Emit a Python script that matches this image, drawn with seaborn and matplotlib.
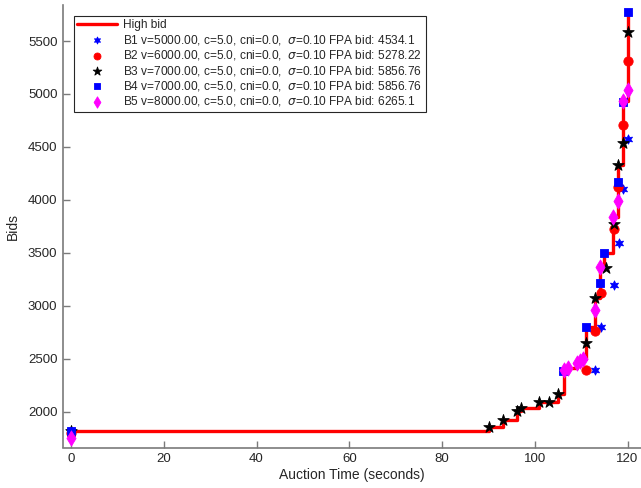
import matplotlib
matplotlib.use("Agg")
import matplotlib.pyplot as plt
import seaborn as sns
import pandas as pd

# High bid over the auction (step function, time in seconds)
high_t = [0, 90.1, 93.1, 96.1, 97.0, 101.0, 103.0, 105.0, 106.2, 107.1, 109.0, 109.7,
          110.4, 111.1, 113.0, 114.1, 115.0, 116.9, 118.0, 119.0, 120.0, 120.4]
high_v = [1821, 1852, 1925, 2012, 2035, 2088, 2097, 2170, 2396, 2418, 2465, 2475,
          2497, 2799, 3078, 3371, 3503, 3837, 4330, 4937, 5770, 5770]

# Individual bidders' bids
b1_t = [0, 113.0, 114.25, 117.05, 118.1, 119.1, 120.05]
b1_v = [1821, 2396, 2799, 3198, 3598, 4101, 4575]

b2_t = [0, 111.1, 113.0, 114.2, 117.0, 118.0, 119.0, 120.0]
b2_v = [1800, 2396, 2758, 3119, 3724, 4120, 4705, 5311]

b3_t = [0, 90.1, 93.1, 96.1, 97.0, 101.0, 103.0, 105.0, 111.0, 113.0, 115.3, 117.05,
        117.9, 119.0, 120.0]
b3_v = [1820, 1852, 1925, 2012, 2035, 2088, 2097, 2170, 2654, 3078, 3356, 3774,
        4330, 4535, 5585]

b4_t = [0, 106.1, 111.0, 114.0, 115.0, 118.0, 119.0, 120.0]
b4_v = [1820, 2385, 2799, 3220, 3503, 4173, 4925, 5770]

b5_t = [0, 106.2, 107.1, 109.0, 109.7, 110.4, 113.0, 114.0, 116.9, 118.0, 119.0, 120.0]
b5_v = [1752, 2396, 2418, 2465, 2475, 2497, 2965, 3371, 3837, 3991, 4937, 5038]

labels = [
    "B1 v=5000.00, c=5.0, cni=0.0,  $\\sigma$=0.10 FPA bid: 4534.1",
    "B2 v=6000.00, c=5.0, cni=0.0,  $\\sigma$=0.10 FPA bid: 5278.22",
    "B3 v=7000.00, c=5.0, cni=0.0,  $\\sigma$=0.10 FPA bid: 5856.76",
    "B4 v=7000.00, c=5.0, cni=0.0,  $\\sigma$=0.10 FPA bid: 5856.76",
    "B5 v=8000.00, c=5.0, cni=0.0,  $\\sigma$=0.10 FPA bid: 6265.1",
]

sns.set_theme(style="white")
plt.rcParams["font.family"] = ["Liberation Sans", "DejaVu Sans"]
plt.rcParams["mathtext.fontset"] = "dejavusans"

fig = plt.figure(figsize=(6.41, 4.88), dpi=100)
ax = fig.add_axes([63 / 641, 1 - 447.5 / 488, 1 - 63 / 641, (447.5 - 5) / 488])

high = pd.DataFrame({"t": high_t, "v": high_v})
sns.lineplot(data=high, x="t", y="v", ax=ax, color="red", linewidth=2.4,
             drawstyle="steps-post", label="High bid", zorder=2)

styles = [
    (b1_t, b1_v, "blue", (6, 1, 0), 45),
    (b2_t, b2_v, "red", "o", 45),
    (b3_t, b3_v, "black", "*", 75),
    (b4_t, b4_v, "blue", "s", 28),
    (b5_t, b5_v, "magenta", "d", 60),
]
for (t, v, col, mk, size), lab in zip(styles, labels):
    df = pd.DataFrame({"t": t, "v": v})
    sns.scatterplot(data=df, x="t", y="v", ax=ax, color=col, marker=mk, s=size,
                    edgecolor=col, linewidth=0.6, label=lab, zorder=3)

ax.set_xlim(-1.72, 122.9)
ax.set_ylim(1663, 5840)
ax.set_xticks([0, 20, 40, 60, 80, 100, 120])
ax.set_yticks([2000, 2500, 3000, 3500, 4000, 4500, 5000, 5500])

gray = "#262626"
for side in ("top", "right"):
    ax.spines[side].set_visible(False)
for side in ("left", "bottom"):
    ax.spines[side].set_color("#7a7a7a")
    ax.spines[side].set_linewidth(1.2)
ax.tick_params(axis="both", direction="in", length=5, width=1.0, color="#7a7a7a",
               labelsize=9.5, labelcolor=gray, pad=4, left=True, bottom=True)

ax.set_xlabel("Auction Time (seconds)", fontsize=10, color=gray, labelpad=2)
ax.set_ylabel("Bids", fontsize=10, color=gray, labelpad=6)

leg = ax.legend(loc="upper left", bbox_to_anchor=(0.0, 1.0), borderaxespad=0.9,
                fontsize=8.6, frameon=True, fancybox=False, framealpha=1,
                edgecolor="#262626", labelspacing=0.12, handlelength=3.3,
                handletextpad=0.55, borderpad=0.3, markerscale=0.75)
leg.get_frame().set_linewidth(0.8)

fig.savefig("out.png", dpi=100)
